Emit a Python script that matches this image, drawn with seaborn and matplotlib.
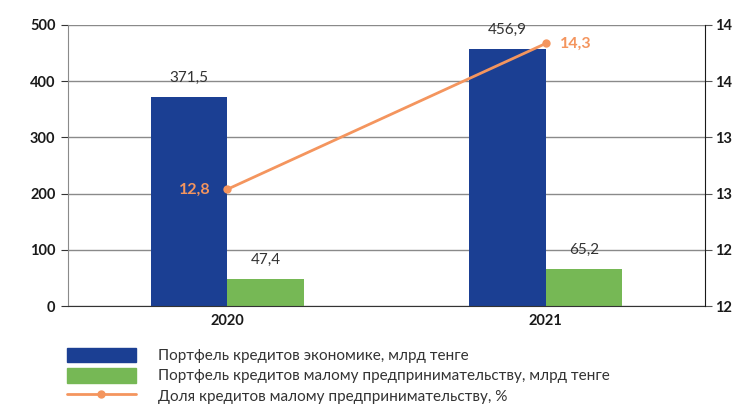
import numpy as np
import pandas as pd
import matplotlib
matplotlib.use('Agg')
import matplotlib.pyplot as plt
import seaborn as sns
from matplotlib.patches import Patch
from matplotlib.lines import Line2D

# данные
years = ['2020', '2021']
economy_loans = [371.5, 456.9]
small_business_loans = [47.4, 65.2]
small_business_share = [12.8, 14.3]

series_names = ['Портфель кредитов экономике, млрд тенге',
                'Портфель кредитов малому предпринимательству, млрд тенге']
share_name = 'Доля кредитов малому предпринимательству, %'

blue = '#1B3F93'
green = '#76B855'
orange = '#F4955E'

sns.set_style('white')
plt.rcParams['font.family'] = ['Lato', 'DejaVu Sans']

df = pd.DataFrame({
    'year': years * 2,
    'value': economy_loans + small_business_loans,
    'series': [series_names[0]] * 2 + [series_names[1]] * 2,
})

fig = plt.figure(figsize=(7.52, 4.04), dpi=100)
ax = fig.add_axes([68 / 752, 1 - 306 / 404, (705 - 68) / 752, (306 - 25) / 404])

sns.barplot(data=df, x='year', y='value', hue='series', order=years,
            hue_order=series_names, palette=[blue, green], width=0.48,
            saturation=1, linewidth=0, ax=ax, legend=False)

ax.set_xlim(-0.5, 1.5)
ax.set_ylim(0, 500)
ax.set_yticks(np.arange(0, 501, 100))
ax.set_xlabel('')
ax.set_ylabel('')
ax.grid(axis='y', color='#8a8a8a', lw=1)
ax.set_axisbelow(True)
for s in ['top', 'right']:
    ax.spines[s].set_visible(False)
ax.spines['left'].set_color('#8a8a8a')
ax.spines['bottom'].set_color('#333333')
ax.tick_params(axis='y', length=5, color='#333333', labelsize=10.5, pad=4)
ax.tick_params(axis='x', length=0, labelsize=10.5, pad=6)
ax.set_xticks([-0.5, 0.5, 1.5], minor=True)
ax.tick_params(axis='x', which='minor', length=5, color='#555555')
for lab in ax.get_yticklabels() + ax.get_xticklabels():
    lab.set_fontweight('bold')
    lab.set_color('#1a1a1a')

# подписи значений столбцов
for cont in ax.containers:
    ax.bar_label(cont, labels=[f'{v:.1f}'.replace('.', ',') for v in cont.datavalues],
                 padding=9, fontsize=11, color='#333333')

# правая ось
ax2 = ax.twinx()
ax2.set_ylim(11.6, 14.49)
ax2.set_yticks(np.linspace(11.6, 14.49, 6))
ax2.yaxis.set_major_formatter(matplotlib.ticker.FormatStrFormatter('%.0f'))
sns.lineplot(x=np.arange(len(years)), y=small_business_share, ax=ax2, color=orange,
             lw=2, marker='o', markersize=6, markeredgewidth=0)
ax2.set_xlim(-0.5, 1.5)
for s in ['top', 'left', 'bottom']:
    ax2.spines[s].set_visible(False)
ax2.spines['right'].set_color('#1a1a1a')
ax2.tick_params(axis='y', length=5, labelsize=10.5, pad=2, color='#555555')
for lab in ax2.get_yticklabels():
    lab.set_fontweight('bold')
    lab.set_color('#1a1a1a')

ax2.annotate('12,8', (0, small_business_share[0]), xytext=(-12, 0), textcoords='offset points',
             ha='right', va='center', color=orange, fontsize=11.5, fontweight='bold')
ax2.annotate('14,3', (1, small_business_share[1]), xytext=(10, 0), textcoords='offset points',
             ha='left', va='center', color=orange, fontsize=11.5, fontweight='bold')

handles = [Patch(color=blue), Patch(color=green),
           Line2D([0], [0], color=orange, lw=2, marker='o', markersize=5)]
fig.legend(handles, series_names + [share_name], loc='upper left',
           bbox_to_anchor=(53 / 752, 1 - 334 / 404), frameon=False,
           handlelength=4.5, handleheight=1.1, handletextpad=1.5,
           labelspacing=0.3, fontsize=11, labelcolor='#333333')

fig.savefig('out.png', dpi=100)
